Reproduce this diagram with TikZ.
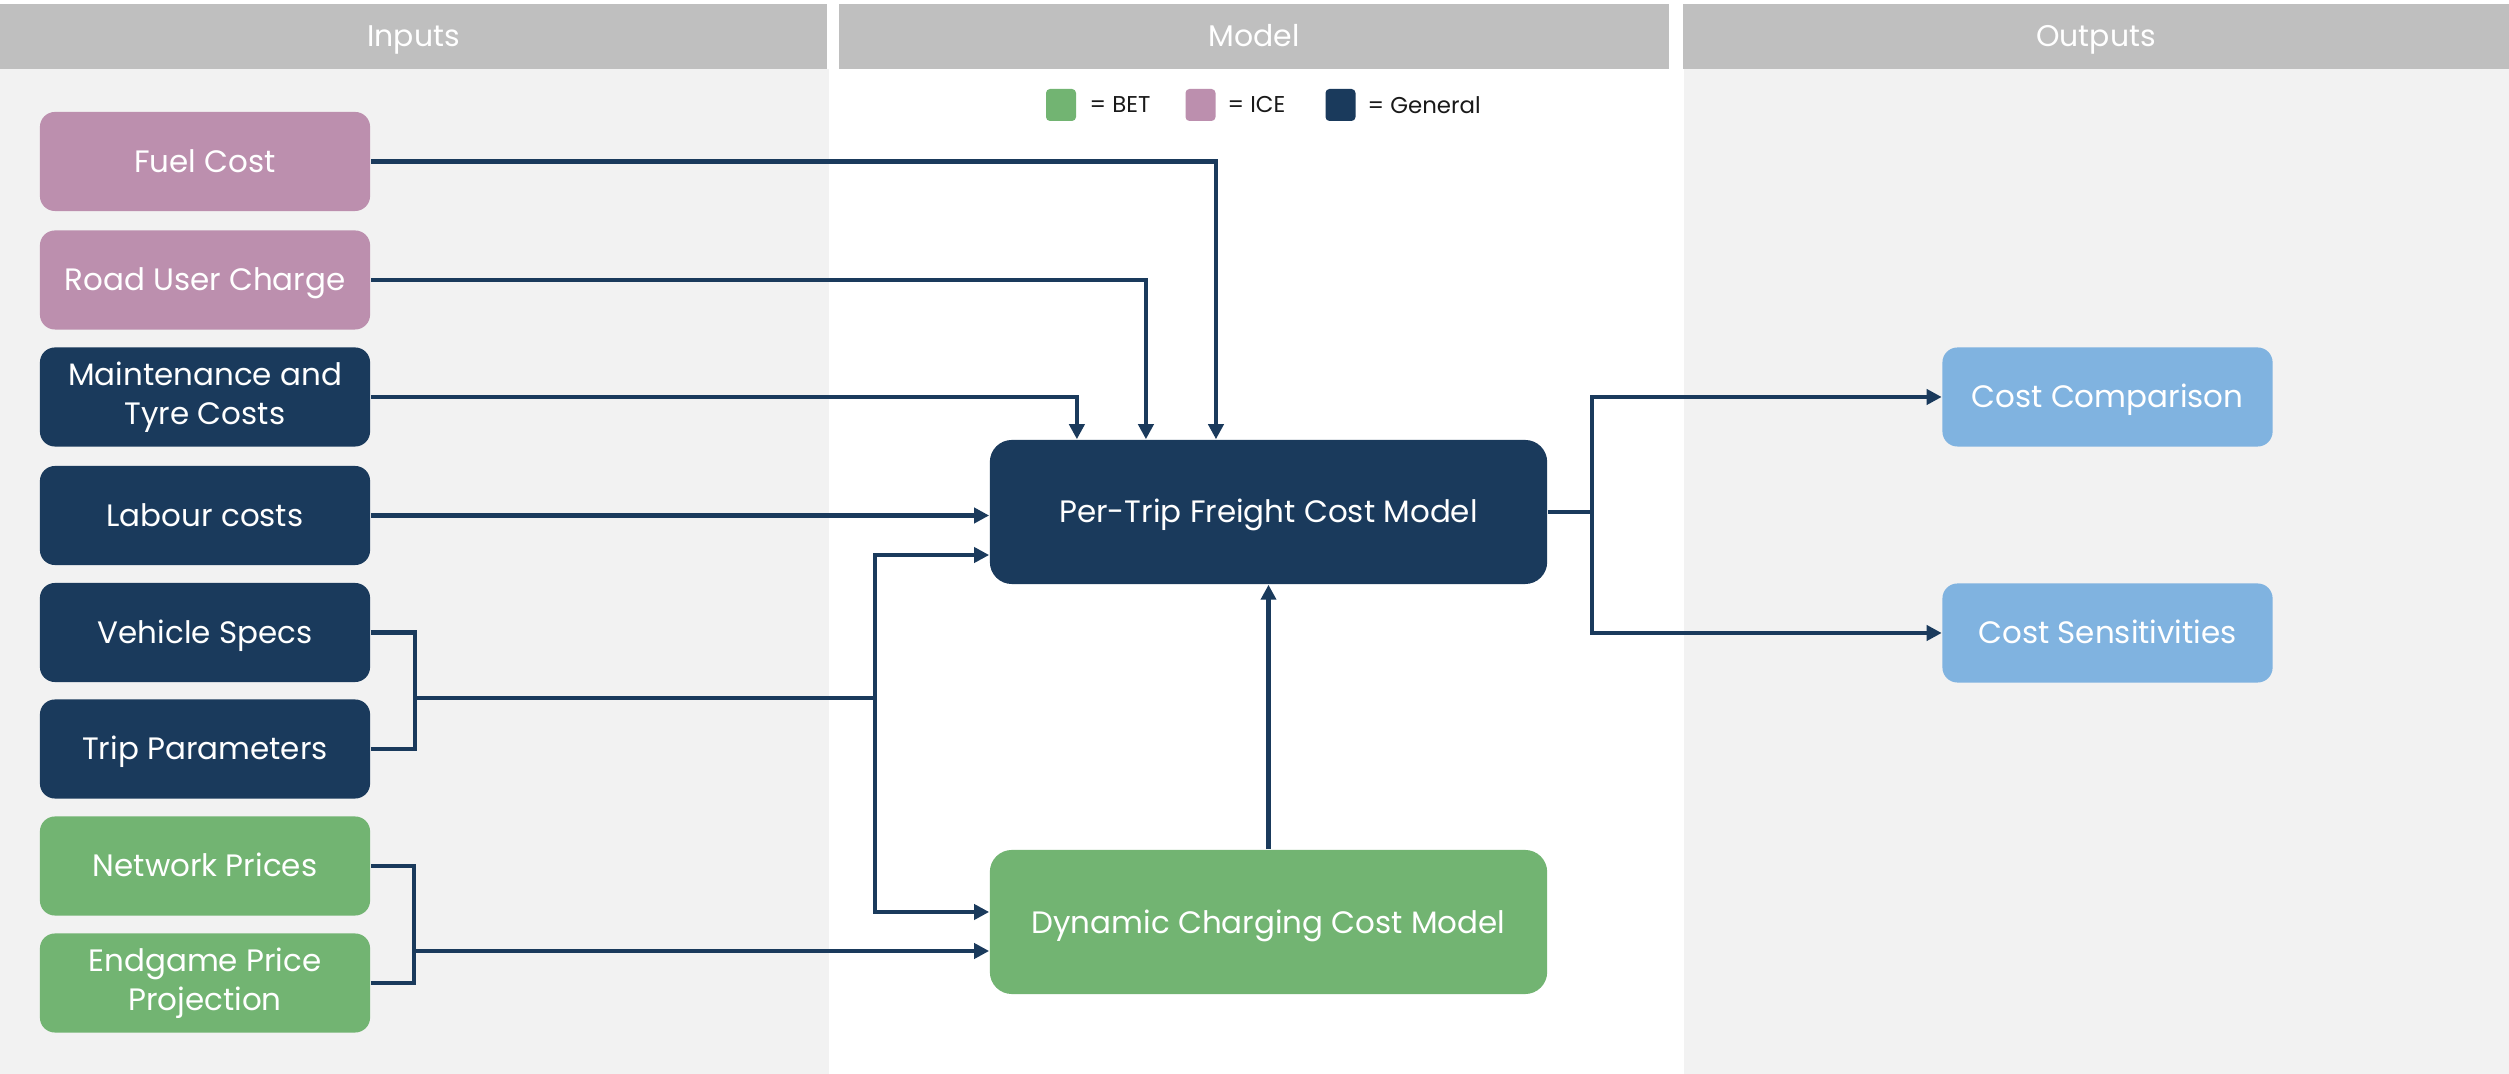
\documentclass[tikz,border=0pt]{standalone}
\usepackage{fontspec}
\setmainfont{Poppins}
\usetikzlibrary{arrows.meta,calc}
\definecolor{navy}{HTML}{1A3A5C}
\definecolor{pinkice}{HTML}{BC8FAE}
\definecolor{greenbet}{HTML}{72B472}
\definecolor{lblue}{HTML}{80B3E0}
\definecolor{hdrgray}{HTML}{BFBFBF}
\definecolor{bggray}{HTML}{F2F2F2}
\begin{document}
\begin{tikzpicture}[x=0.01cm,y=-0.01cm,
  box/.style={rounded corners=0.15cm, minimum width=3.3cm, minimum height=0.99cm, inner sep=0pt, text=white, align=center, font=\fontsize{8.8}{11.2}\selectfont},
  one/.style={text height=0.22cm, text depth=0pt},
  big/.style={box, rounded corners=0.22cm, minimum width=5.57cm, minimum height=1.44cm},
  link/.style={draw=navy, line width=1.15pt},
  arr/.style={link, -{Triangle[length=0.15cm,width=0.15cm]}},
  hdr/.style={fill=hdrgray, text=white, inner sep=0pt, minimum height=0.65cm, text height=0.21cm, text depth=0pt, font=\fontsize{8.5}{10}\selectfont},
  legsq/.style={rounded corners=0.04cm, minimum width=0.3cm, minimum height=0.32cm, inner sep=0pt},
  legtx/.style={anchor=west, inner sep=0pt, text=black!90, font=\fontsize{6.5}{8}\selectfont}]
\useasboundingbox (0,0) rectangle (2509,1074);
\fill[white] (0,0) rectangle (2509,1074);
\fill[bggray] (0,69) rectangle (829,1074);
\fill[bggray] (1684,69) rectangle (2509,1074);
% headers
\node[hdr, minimum width=8.27cm] (hin) at (413.5,36.5) {Inputs};
\node[hdr, minimum width=8.30cm] (hmod) at (1254,36.5) {Model};
\node[hdr, minimum width=8.26cm] (hout) at (2096,36.5) {Outputs};
% legend
\node[legsq, fill=greenbet] (lg1) at (1061,105) {};
\node[legtx] (lt1) at (1089,105) {= BET};
\node[legsq, fill=pinkice] (lg2) at (1200.5,105) {};
\node[legtx] (lt2) at (1227,105) {= ICE};
\node[legsq, fill=navy] (lg3) at (1340.5,105) {};
\node[legtx] (lt3) at (1367,105) {= General};
% inputs
\node[box, one, fill=pinkice] (fuel) at (205,161.5) {Fuel Cost};
\node[box, one, fill=pinkice] (road) at (205,280) {Road User Charge};
\node[box, fill=navy] (maint) at (205,397) {Maintenance and\\Tyre Costs};
\node[box, one, fill=navy] (lab) at (205,515.5) {Labour costs};
\node[box, one, fill=navy] (veh) at (205,632.5) {Vehicle Specs};
\node[box, one, fill=navy] (trip) at (205,749) {Trip Parameters};
\node[box, one, fill=greenbet] (net) at (205,866) {Network Prices};
\node[box, fill=greenbet] (endg) at (205,983) {Endgame Price\\Projection};
% model
\node[big, one, fill=navy] (per) at (1268.5,512) {Per-Trip Freight Cost Model};
\node[big, one, fill=greenbet] (dyn) at (1268.5,922) {Dynamic Charging Cost Model};
% outputs
\node[box, one, fill=lblue] (cc) at (2107.5,397) {Cost Comparison};
\node[box, one, fill=lblue] (cs) at (2107.5,633) {Cost Sensitivities};
% junctions
\coordinate (j1) at (415,698);
\coordinate (j2) at (875,698);
\coordinate (j3) at (414,951);
\coordinate (j4) at (1592,512);
% connectors
\draw[arr] (fuel.east) -| ([xshift=-0.525cm]per.north);
\draw[arr] (road.east) -| ([xshift=-1.225cm]per.north);
\draw[arr] (maint.east) -| ([xshift=-1.915cm]per.north);
\draw[arr] (lab.east) -- (lab.east -| per.west);
\draw[link] (veh.east) -| (j1);
\draw[link] (trip.east) -| (j1);
\draw[link] (j1) -- (j2);
\draw[arr] (j2) |- ([yshift=-0.43cm]per.west);
\draw[arr] (j2) |- ([yshift=0.1cm]dyn.west);
\draw[link] (net.east) -| (j3);
\draw[link] (endg.east) -| (j3);
\draw[arr] (j3) -- (j3 -| dyn.west);
\draw[arr] (dyn.north) -- (per.south);
\draw[link] (per.east) -- (j4);
\draw[arr] (j4) |- (cc.west);
\draw[arr] (j4) |- (cs.west);
\end{tikzpicture}
\end{document}
